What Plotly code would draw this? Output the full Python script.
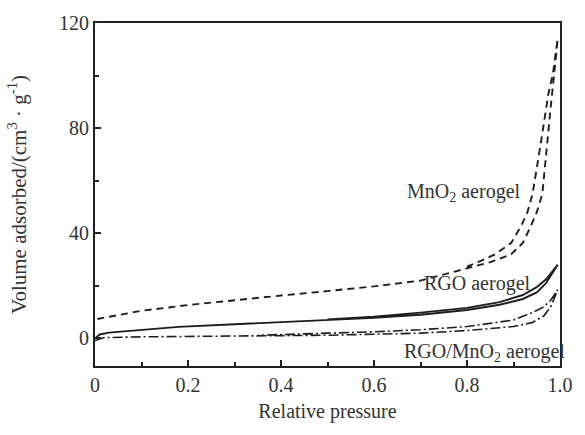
import plotly.graph_objects as go

# MnO2 aerogel (dashed loop)
mno2_ads_p = [0.005, 0.05, 0.1, 0.2, 0.3, 0.4, 0.5, 0.6, 0.7, 0.8, 0.85, 0.895, 0.92, 0.937, 0.95, 0.962, 0.97, 0.98, 0.99, 0.995]
mno2_ads_v = [7.4, 9.0, 10.5, 12.7, 14.6, 16.3, 18.0, 19.8, 22.0, 26.5, 29.0, 32.0, 36.3, 42.6, 48.0, 55.0, 71.0, 88.0, 105.0, 114.0]
mno2_des_p = [0.995, 0.985, 0.975, 0.958, 0.941, 0.93, 0.916, 0.895, 0.859, 0.83, 0.8]
mno2_des_v = [114.0, 101.0, 93.0, 73.5, 55.0, 48.0, 42.6, 36.3, 31.9, 29.5, 27.3]

# RGO aerogel (solid loop)
rgo_ads_p = [0.0, 0.01, 0.03, 0.1, 0.18, 0.3, 0.4, 0.5, 0.6, 0.7, 0.8, 0.87, 0.92, 0.95, 0.97, 0.995]
rgo_ads_v = [0.0, 1.5, 2.2, 3.3, 4.4, 5.4, 6.2, 7.0, 7.8, 9.0, 10.8, 12.8, 15.0, 17.5, 21.0, 28.0]
rgo_des_p = [0.995, 0.97, 0.95, 0.92, 0.87, 0.8, 0.7, 0.6, 0.5]
rgo_des_v = [28.0, 22.5, 19.5, 16.5, 13.8, 11.6, 9.8, 8.3, 7.2]

# RGO/MnO2 aerogel (dash-dot loop)
comp_ads_p = [0.0, 0.02, 0.1, 0.3, 0.5, 0.7, 0.8, 0.9, 0.94, 0.965, 0.98, 0.995]
comp_ads_v = [-0.8, 0.3, 0.6, 0.8, 1.2, 2.0, 3.0, 4.5, 6.0, 8.5, 12.0, 18.5]
comp_des_p = [0.995, 0.98, 0.965, 0.94, 0.9, 0.8, 0.7, 0.6, 0.5, 0.4, 0.35]
comp_des_v = [18.5, 14.5, 12.0, 9.8, 7.0, 4.5, 3.3, 2.5, 2.0, 1.5, 1.2]

x_ticks = [0, 0.2, 0.4, 0.6, 0.8, 1.0]
x_ticktext = ["0", "0.2", "0.4", "0.6", "0.8", "1.0"]
x_minor = [0.1, 0.3, 0.5, 0.7, 0.9]
y_ticks = [0, 40, 80, 120]
y_minor = [20, 60, 100]

labels = ["MnO<sub>2</sub> aerogel", "RGO aerogel", "RGO/MnO<sub>2</sub> aerogel"]
label_x = [0.895, 0.916, 0.994]
label_y = [55.5, 21.0, -5.2]
label_shift = [12, 12, 10]

ink = "#1e1e1e"
txt = "#333333"
serif = "Liberation Serif"

fig = go.Figure()
fig.add_trace(go.Scatter(x=mno2_ads_p + mno2_des_p, y=mno2_ads_v + mno2_des_v, mode="lines",
                         line=dict(color=ink, width=1.9, dash="7px,5px")))
fig.add_trace(go.Scatter(x=rgo_ads_p + rgo_des_p, y=rgo_ads_v + rgo_des_v, mode="lines",
                         line=dict(color=ink, width=1.9)))
fig.add_trace(go.Scatter(x=comp_ads_p + comp_des_p, y=comp_ads_v + comp_des_v, mode="lines",
                         line=dict(color=ink, width=1.6, dash="10px,3px,2px,3px")))

for t, xx, yy, sh in zip(labels, label_x, label_y, label_shift):
    fig.add_annotation(x=xx, y=yy, xref="x", yref="y", text=t, showarrow=False,
                       xanchor="right", yanchor="middle", xshift=sh,
                       font=dict(family=serif, size=20, color=txt))

axis_common = dict(showline=True, linecolor="#222", linewidth=2, mirror=True,
                   ticks="inside", ticklen=6, tickwidth=1.5, tickcolor="#222",
                   showgrid=False, zeroline=False,
                   tickfont=dict(family=serif, size=20, color=txt))

fig.update_xaxes(range=[0, 1], tickmode="array", tickvals=x_ticks, ticktext=x_ticktext,
                 minor=dict(tickmode="array", tickvals=x_minor, ticks="inside", ticklen=4, tickcolor="#222"),
                 title=dict(text="Relative pressure", standoff=9,
                            font=dict(family=serif, size=20, color=txt)),
                 **axis_common)
fig.update_yaxes(range=[-10.5, 120], tickmode="array", tickvals=y_ticks,
                 minor=dict(tickmode="array", tickvals=y_minor, ticks="inside", ticklen=4, tickcolor="#222"),
                 title=dict(text="Volume adsorbed/(cm<sup>3</sup> · g<sup>-1</sup>)", standoff=27,
                            font=dict(family=serif, size=21, color=txt)),
                 **axis_common)

fig.update_layout(width=585, height=435, margin=dict(l=95, r=14, t=15, b=69),
                  paper_bgcolor="white", plot_bgcolor="white", showlegend=False)

fig.write_html("out.html")
